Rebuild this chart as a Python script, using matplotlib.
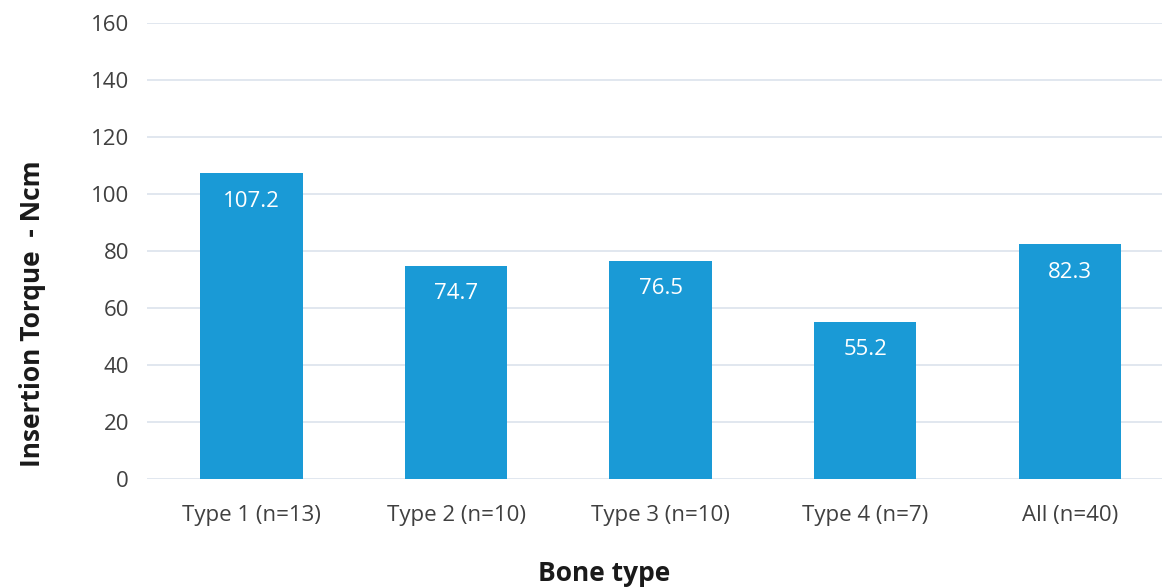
import matplotlib
matplotlib.use("Agg")
import matplotlib.pyplot as plt

# mean insertion torque per bone type
categories = ["Type 1 (n=13)", "Type 2 (n=10)", "Type 3 (n=10)", "Type 4 (n=7)", "All (n=40)"]
torque = [107.2, 74.7, 76.5, 55.2, 82.3]
yticks = [0, 20, 40, 60, 80, 100, 120, 140, 160]

plt.rcParams["font.family"] = ["Open Sans", "DejaVu Sans"]

fig = plt.figure(figsize=(11.64, 5.87), dpi=100)
ax = fig.add_axes([0.1263, 0.184, 0.872, 0.777])

x = list(range(len(categories)))
bars = ax.bar(x, torque, width=0.5, color="#1A9AD6", zorder=3)

for rect, val in zip(bars, torque):
    ax.annotate(f"{val:.1f}", (rect.get_x() + rect.get_width() / 2, rect.get_height()),
                xytext=(0, -20), textcoords="offset points", ha="center", va="center",
                color="white", fontsize=16, zorder=4)

ax.set_ylim(0, 160)
ax.set_xlim(-0.51, 4.45)
ax.set_yticks(yticks)
ax.set_xticks(x)
ax.set_xticklabels(categories)
ax.grid(True, axis="y", color="#DCE3EC", linewidth=1.2, zorder=0)
for s in ax.spines.values():
    s.set_visible(False)
ax.tick_params(length=0, labelsize=16, labelcolor="#404040")
ax.tick_params(axis="y", pad=13)
ax.tick_params(axis="x", pad=19)

ax.set_xlabel("Bone type", fontsize=19, fontweight="bold", color="#1a1a1a")
ax.set_ylabel("Insertion Torque  - Ncm", fontsize=19, fontweight="bold", color="#1a1a1a")
ax.xaxis.set_label_coords(0.45, -0.178)
ax.yaxis.set_label_coords(-0.100, 0.362)

fig.savefig("out.png", dpi=100)
